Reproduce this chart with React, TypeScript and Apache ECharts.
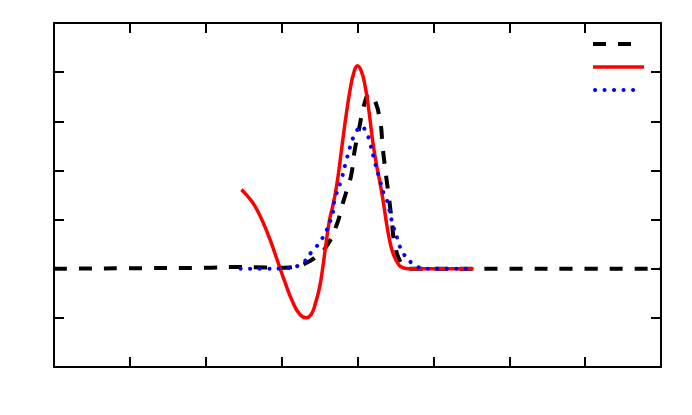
import React, { useEffect, useRef } from "react";
import * as echarts from "echarts";

const xTicks = [-4, -3, -2, -1, 0, 1, 2, 3, 4];
const yRange = [-2, 5];

const blackX = [-4, -3, -2, -1.6, -1.2, -0.96, -0.8, -0.67, -0.55, -0.42, -0.28, -0.2, -0.16, -0.085, -0.04, 0.026, 0.09, 0.16, 0.22, 0.3, 0.33, 0.37, 0.41, 0.45, 0.49, 0.58, 0.68, 1, 2, 3, 4];
const blackY = [0, 0.01, 0.02, 0.035, 0.025, 0.02, 0.05, 0.12, 0.24, 0.43, 0.87, 1.3, 1.5, 1.89, 2.38, 2.89, 3.35, 3.56, 3.46, 2.99, 2.5, 1.97, 1.5, 1.0, 0.51, 0.1, 0, 0, 0, 0, 0];

const redX = [-1.53, -1.45, -1.35, -1.25, -1.15, -1.05, -0.95, -0.85, -0.76, -0.68, -0.61, -0.55, -0.5, -0.46, -0.42, -0.37, -0.33, -0.29, -0.25, -0.2, -0.15, -0.1, -0.05, 0, 0.05, 0.1, 0.15, 0.2, 0.25, 0.3, 0.34, 0.38, 0.42, 0.46, 0.5, 0.55, 0.6, 0.68, 1, 1.53];
const redY = [1.61, 1.48, 1.27, 0.96, 0.58, 0.14, -0.3, -0.69, -0.93, -1.0, -0.93, -0.68, -0.38, 0.0, 0.45, 0.98, 1.25, 1.55, 1.95, 2.55, 3.12, 3.62, 3.98, 4.13, 4.02, 3.72, 3.22, 2.6, 2.12, 1.72, 1.36, 0.95, 0.6, 0.35, 0.2, 0.07, 0.02, 0, 0, 0];

const blueX = [-1.54, -1.2, -0.96, -0.76, -0.59, -0.47, -0.34, -0.3, -0.21, -0.145, -0.08, -0.026, 0.05, 0.12, 0.16, 0.22, 0.29, 0.36, 0.39, 0.46, 0.53, 0.59, 0.71, 0.79, 0.9, 1.2, 1.53];
const blueY = [0, 0, 0.01, 0.08, 0.37, 0.6, 1.06, 1.4, 1.83, 2.22, 2.56, 2.76, 2.89, 2.76, 2.58, 2.22, 1.83, 1.46, 1.38, 0.93, 0.59, 0.35, 0.12, 0.04, 0, 0, 0];

const zip = (xs: number[], ys: number[]) => xs.map((x, i) => [x, ys[i]]);

export default function App() {
  const ref = useRef<HTMLDivElement>(null);
  useEffect(() => {
    if (!ref.current) return;
    const chart = echarts.init(ref.current, null, { renderer: "svg" });
    const axisCommon = {
      axisLabel: { show: false },
      splitLine: { show: false },
      axisLine: { show: true, onZero: false, lineStyle: { color: "#000", width: 2 } },
      axisTick: { show: true, inside: true, length: 10, lineStyle: { color: "#000", width: 2 } },
    };
    const xAxisBase = { type: "value", min: xTicks[0], max: xTicks[xTicks.length - 1], interval: 1, ...axisCommon };
    const yAxisBase = { type: "value", min: yRange[0], max: yRange[1], interval: 1, ...axisCommon };
    const lineCommon = { showSymbol: false, symbol: "none", smooth: 0.5 };
    chart.setOption({
      animation: false,
      backgroundColor: "#fff",
      grid: { left: 54, right: 31, top: 23, bottom: 48, containLabel: false },
      xAxis: [
        { ...xAxisBase, position: "bottom" },
        { ...xAxisBase, position: "top" },
      ],
      yAxis: [
        { ...yAxisBase, position: "left" },
        { ...yAxisBase, position: "right" },
      ],
      series: [
        {
          type: "line",
          name: "black",
          data: zip(blackX, blackY),
          ...lineCommon,
          lineStyle: { color: "#000", width: 4, type: [13, 12], cap: "butt" },
          z: 3,
        },
        {
          type: "line",
          name: "red",
          data: zip(redX, redY),
          ...lineCommon,
          lineStyle: { color: "#ff0000", width: 3.5 },
          z: 4,
        },
        {
          type: "line",
          name: "blue",
          data: zip(blueX, blueY),
          ...lineCommon,
          lineStyle: { color: "#0000ff", width: 4, type: [0.1, 9.4], cap: "round" },
          z: 5,
        },
      ],
      graphic: [
        { type: "line", shape: { x1: 593, y1: 44, x2: 631, y2: 44 }, style: { stroke: "#000", lineWidth: 4, lineDash: [13, 12] } },
        { type: "line", shape: { x1: 593, y1: 67, x2: 644, y2: 67 }, style: { stroke: "#ff0000", lineWidth: 3.5 } },
        { type: "line", shape: { x1: 595, y1: 90, x2: 636, y2: 90 }, style: { stroke: "#0000ff", lineWidth: 4, lineDash: [0.1, 9.4], lineCap: "round" } },
      ],
    });
    return () => chart.dispose();
  }, []);
  return <div ref={ref} style={{ position: "fixed", left: 0, top: 0, width: 692, height: 415 }} />;
}
